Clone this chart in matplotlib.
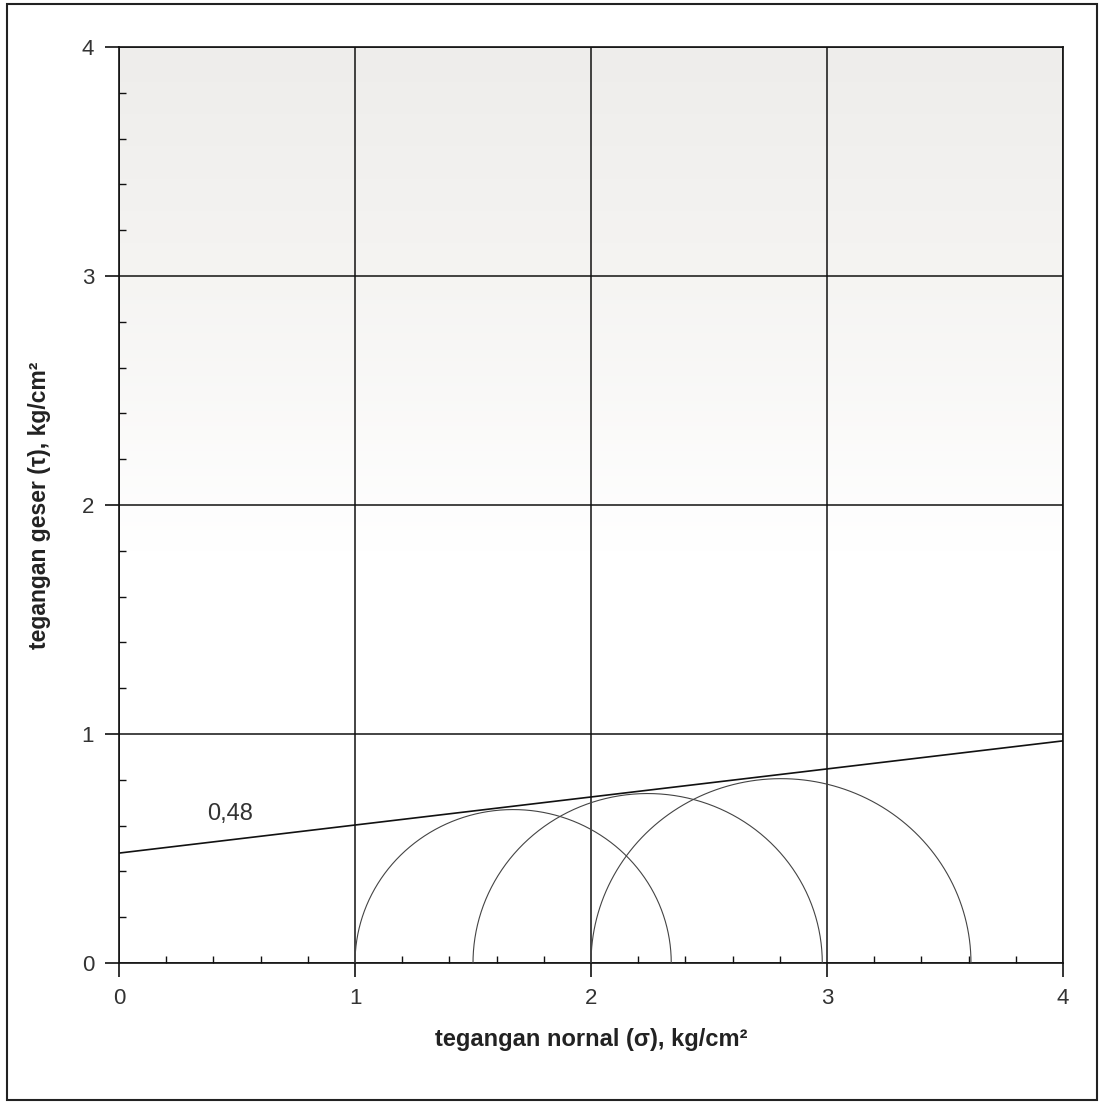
"""Mohr-cirkels met de bezwijkeinveloppe (tegangan geser vs tegangan normal)."""
import matplotlib.pyplot as plt
import numpy as np
from matplotlib.patches import Rectangle

# Mohr-cirkels: kleinste en grootste hoofdspanning per proef (kg/cm2)
sigma3 = [1.0, 1.5, 2.0]
sigma1 = [2.34, 2.98, 3.61]

# Bezwijklijn: kohesie en helling
cohesion = 0.48
slope = 0.1225
line_x = [0.0, 4.0]

x_ticks = [0, 1, 2, 3, 4]
y_ticks = [0, 1, 2, 3, 4]

plt.rcParams['font.family'] = ['Liberation Sans', 'DejaVu Sans']

fig = plt.figure(figsize=(11.05, 11.04), dpi=100)
ax = fig.add_axes([0.1077, 0.1277, 0.8543, 0.8298])

# Lichtgrijze achtergrond die naar onderen toe wit wordt
grad = np.linspace(0, 1, 256).reshape(-1, 1)
cmap = plt.matplotlib.colors.LinearSegmentedColormap.from_list(
    "bg", [(0.0, "#ffffff"), (0.45, "#ffffff"), (0.75, "#f5f4f2"), (1.0, "#eeedeb")])
ax.imshow(grad, extent=[0, 4, 0, 4], origin="lower", aspect="auto", cmap=cmap, zorder=0)

for s3, s1 in zip(sigma3, sigma1):
    c = (s1 + s3) / 2
    r = (s1 - s3) / 2
    t = np.linspace(0, np.pi, 400)
    ax.plot(c + r * np.cos(t), r * np.sin(t), color="#444444", lw=0.8, zorder=3)

lx = np.array(line_x)
ax.plot(lx, cohesion + slope * lx, color="#111111", lw=1.2, zorder=4)
ax.text(0.47, 0.65, "0,48", fontsize=17, ha="center", va="center", color="#333333")

ax.set_xlim(0, 4)
ax.set_ylim(0, 4)
ax.set_xticks(x_ticks)
ax.set_yticks(y_ticks)
ax.set_xticks(np.arange(0, 4.01, 0.2), minor=True)
ax.set_yticks(np.arange(0, 4.01, 0.2), minor=True)
ax.tick_params(which="major", direction="out", length=10, width=1.2, labelsize=16,
               colors="#111111", labelcolor="#333333", pad=8)
ax.tick_params(which="minor", direction="in", length=5, width=1.0, colors="#111111")
ax.grid(True, which="major", color="#111111", lw=1.1)
ax.set_axisbelow(False)
for s in ["left", "bottom", "top", "right"]:
    ax.spines[s].set_linewidth(1.2)
    ax.spines[s].set_color("#111111")

ax.set_xlabel("tegangan nornal (σ), kg/cm²", fontsize=17, fontweight="bold",
              color="#222222", labelpad=14)
ax.set_ylabel("tegangan geser (τ), kg/cm²", fontsize=16.5, fontweight="bold",
              color="#222222", labelpad=22)

# Kader rond de hele figuur
fig.patches.append(Rectangle((0.006, 0.004), 0.987, 0.992, transform=fig.transFigure,
                             fill=False, edgecolor="#222222", lw=1.5))

fig.savefig("out.png", dpi=100)
